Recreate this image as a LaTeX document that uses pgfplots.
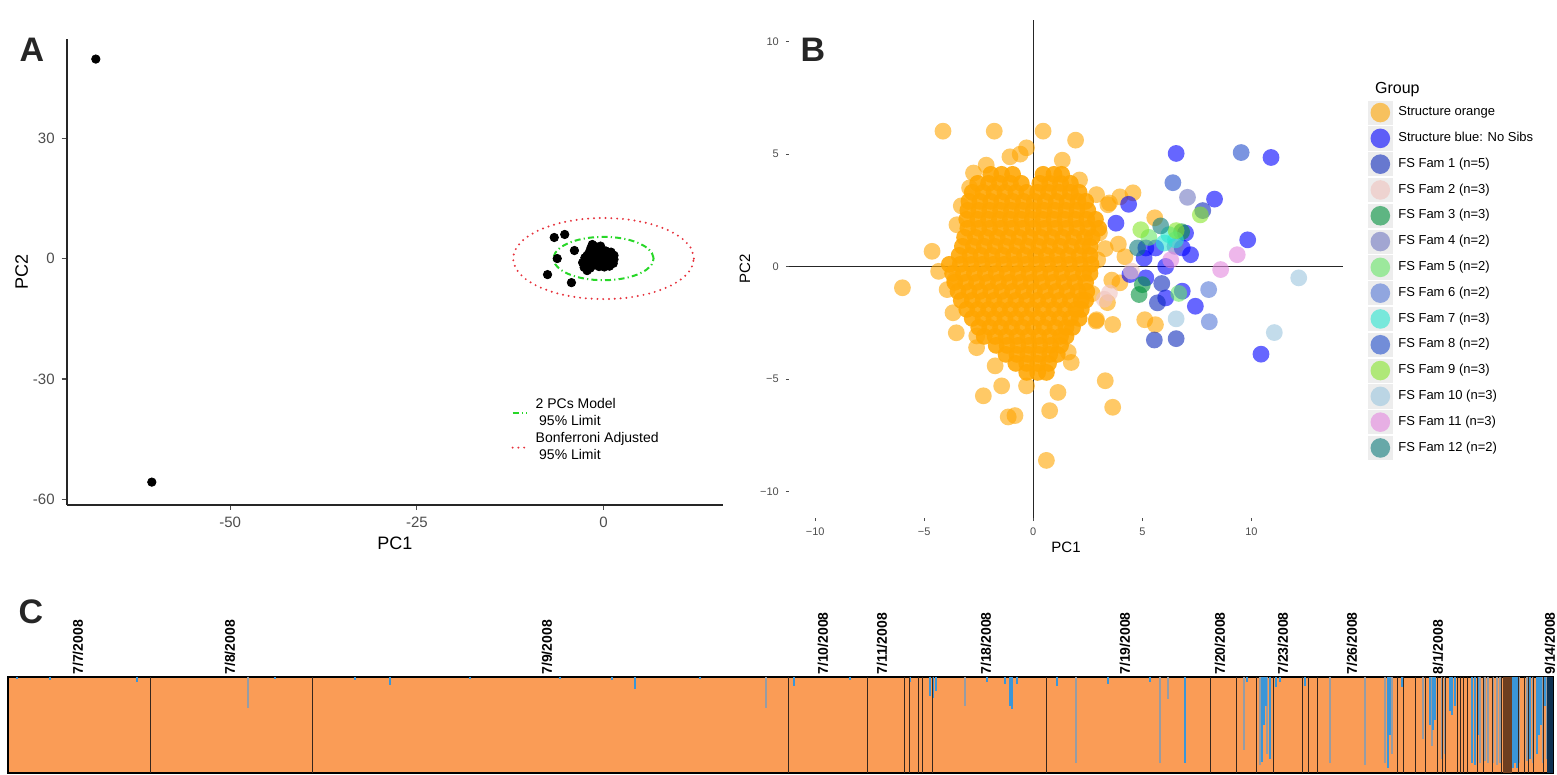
\documentclass[border=0pt]{standalone}
\usepackage{pgfplots}
\pgfplotsset{compat=1.18}
\usepackage{fontspec}
\setmainfont{Liberation Sans}

% group colours (drawn at 60% opacity)
\definecolor{sorange}{RGB}{255,165,0}
\definecolor{sblue}{RGB}{0,0,255}
\definecolor{fam1}{RGB}{15,43,187}
\definecolor{fam2}{RGB}{240,195,190}
\definecolor{fam3}{RGB}{0,145,60}
\definecolor{fam4}{RGB}{113,120,193}
\definecolor{fam5}{RGB}{103,230,103}
\definecolor{fam6}{RGB}{85,120,215}
\definecolor{fam7}{RGB}{42,230,207}
\definecolor{fam8}{RGB}{33,77,203}
\definecolor{fam9}{RGB}{135,230,43}
\definecolor{fam10}{RGB}{155,197,222}
\definecolor{fam11}{RGB}{227,135,222}
\definecolor{fam12}{RGB}{15,123,123}
% structure bar plot colours
\definecolor{corange}{RGB}{250,156,86}
\definecolor{cblue}{RGB}{58,150,216}
\definecolor{cgray}{RGB}{150,156,164}
\definecolor{csep}{RGB}{55,38,28}
\definecolor{cbrown}{RGB}{110,62,32}
\definecolor{cnavy}{RGB}{14,50,82}
\definecolor{tickgray}{RGB}{77,77,77}
\definecolor{limgreen}{RGB}{40,215,40}
\definecolor{limred}{RGB}{230,50,60}

\pgfplotsset{
  ptB/.style={only marks, mark=*, mark size=4.2pt, color=#1,
    mark options={draw opacity=0, fill=#1, fill opacity=0.6}},
  coreB/.style={only marks, mark=*, mark size=4.2pt, color=#1,
    mark options={draw opacity=0, fill=#1, fill opacity=0.88}},
}

\begin{document}
\begin{tikzpicture}
\useasboundingbox (0,0) rectangle (778.5pt,387.5pt);

% ---------------- Panel A: PCA outlier check ----------------
\begin{axis}[
  at={(33.35pt,135pt)}, anchor=south west, scale only axis,
  width=328.15pt, height=233pt,
  xmin=-71.9, xmax=16.0, ymin=-61.4, ymax=54.7,
  axis x line*=bottom, axis y line*=left,
  axis line style={-, line width=0.9pt, black!85},
  xtick={-50,-25,0}, xticklabels={-50,-25,0},
  ytick={-60,-30,0,30}, yticklabels={-60,-30,0,30},
  tick align=outside, major tick length=2.5pt,
  tick style={tickgray, line width=0.6pt},
  ticklabel style={font=\fontsize{7.5}{8}\selectfont, text=tickgray},
  xlabel={PC1}, ylabel={PC2},
  label style={font=\fontsize{9}{10}\selectfont},
  xlabel style={at={(axis description cs:0.5,-0.0815)}, anchor=center},
  ylabel style={at={(axis description cs:-0.0686,0.5)}, anchor=center},
  legend image code/.code={\draw[#1] (0pt,0pt) -- (7pt,0pt);},
  legend style={at={(0.668,0.2425)}, anchor=north west, draw=none, fill=none,
    font=\fontsize{7}{8.5}\selectfont, nodes={align=left, inner sep=1pt},
    row sep=0pt, column sep=3pt},
  legend cell align=left,
]
\addplot[only marks, mark=*, mark size=2.1pt, black, forget plot] coordinates {
  (-68.0,49.7) (-60.5,-55.7)
  (-6.6,5.25) (-5.2,6.0) (-3.9,2.0) (-6.2,0.0) (-7.5,-4.0) (-4.3,-6.0)
  (-1.5,3.5) (-1.1,3.0) (-1.7,2.6) (-0.5,2.0) (0.3,1.9) (1.0,1.6) (1.4,0.8)
  (1.4,-0.2) (1.3,-1.2) (0.8,-1.9) (0.1,-2.1) (-0.6,-2.0) (-1.2,-1.6)
  (-1.5,-0.8) (-1.4,0.2) (-1.2,1.2) (-0.6,0.9) (0.2,0.8) (0.8,0.4) (0.7,-0.6)
  (0.0,-0.9) (-0.7,-0.4) (-0.2,0.1) (-2.5,0.2) (-2.8,-1.0) (-2.6,-2.2)
  (-2.2,-3.0) (-1.8,-2.4) (-2.0,-1.0) (-2.2,0.8) (-1.9,1.6) (-0.4,3.1)
};
\addplot[limgreen, line width=1pt, dash pattern=on 3pt off 1.6pt on 0.6pt off 1.6pt, smooth] coordinates {
  (6.70,0) (6.47,1.40) (5.80,2.70) (4.74,3.82) (3.35,4.68) (1.73,5.22) (0,5.40)
  (-1.73,5.22) (-3.35,4.68) (-4.74,3.82) (-5.80,2.70) (-6.47,1.40) (-6.70,0)
  (-6.47,-1.40) (-5.80,-2.70) (-4.74,-3.82) (-3.35,-4.68) (-1.73,-5.22) (0,-5.40)
  (1.73,-5.22) (3.35,-4.68) (4.74,-3.82) (5.80,-2.70) (6.47,-1.40) (6.70,0)
};
\addlegendentry{2 PCs Model\\\hspace{0.25em}95\% Limit}
\addplot[limred, line width=1.1pt, line cap=round, dash pattern=on 0pt off 2.9pt, smooth] coordinates {
  (12.10,0) (11.69,2.61) (10.48,5.05) (8.56,7.14) (6.05,8.75) (3.13,9.76) (0,10.10)
  (-3.13,9.76) (-6.05,8.75) (-8.56,7.14) (-10.48,5.05) (-11.69,2.61) (-12.10,0)
  (-11.69,-2.61) (-10.48,-5.05) (-8.56,-7.14) (-6.05,-8.75) (-3.13,-9.76) (0,-10.10)
  (3.13,-9.76) (6.05,-8.75) (8.56,-7.14) (10.48,-5.05) (11.69,-2.61) (12.10,0)
};
\addlegendentry{Bonferroni Adjusted\\\hspace{0.25em}95\% Limit}
\end{axis}

% ---------------- Panel B: PCA by group ----------------
\begin{axis}[
  at={(394.5pt,128.5pt)}, anchor=south west, scale only axis,
  width=277pt, height=249pt,
  xmin=-11.2, xmax=14.2, ymin=-11.17, ymax=10.96,
  axis x line*=bottom, axis y line*=left,
  axis line style={draw=none},
  xtick={-10,-5,0,5,10}, xticklabels={−10,−5,0,5,10},
  ytick={-10,-5,0,5,10}, yticklabels={−10,−5,0,5,10},
  tick align=outside, major tick length=1.6pt,
  tick style={tickgray, line width=0.5pt},
  ticklabel style={font=\fontsize{5.5}{6}\selectfont, text=tickgray},
  xlabel={PC1}, ylabel={PC2},
  label style={font=\fontsize{7.5}{8}\selectfont},
  xlabel style={at={(axis description cs:0.5,-0.058)}, anchor=center},
  ylabel style={at={(axis description cs:-0.0794,0.5)}, anchor=center},
  legend image code/.code={
    \fill[black!7] (0pt,-5.8pt) rectangle (11.6pt,5.8pt);
    \draw[#1, mark size=4.9pt] plot coordinates {(5.8pt,0pt)};},
  legend style={at={(1.045,0.839)}, anchor=north west, draw=none, fill=none,
    font=\fontsize{6.5}{7}\selectfont, inner sep=0pt,
    nodes={inner sep=0.5pt}, row sep=0.9pt, column sep=2.5pt},
  legend cell align=left,
]
% dense body of the orange cluster
\addplot[coreB=sorange, forget plot] coordinates {
  (-1.95,4.1) (-1.45,4.1) (-0.95,4.1) (0.45,4.1) (0.95,4.1) (1.3,4.1)
  (-2.55,3.7) (-2.05,3.7) (-1.55,3.7) (-1.05,3.7) (-0.55,3.7) (0.3,3.7) (0.75,3.7) (1.25,3.7) (1.7,3.7)
  (-2.8,3.3) (-2.3,3.3) (-1.8,3.3) (-1.3,3.3) (-0.8,3.3) (-0.3,3.3) (0.2,3.3) (0.7,3.3) (1.2,3.3) (1.7,3.3) (2.1,3.3)
  (-2.95,2.9) (-2.45,2.9) (-1.95,2.9) (-1.45,2.9) (-0.95,2.9) (-0.45,2.9) (0.05,2.9) (0.55,2.9) (1.05,2.9) (1.55,2.9) (2.05,2.9) (2.4,2.9)
  (-3.0,2.5) (-2.5,2.5) (-2.0,2.5) (-1.5,2.5) (-1.0,2.5) (-0.5,2.5) (0.0,2.5) (0.5,2.5) (1.0,2.5) (1.5,2.5) (2.0,2.5) (2.5,2.5)
  (-3.05,2.1) (-2.55,2.1) (-2.05,2.1) (-1.55,2.1) (-1.05,2.1) (-0.55,2.1) (-0.05,2.1) (0.45,2.1) (0.95,2.1) (1.45,2.1) (1.95,2.1) (2.45,2.1) (2.85,2.1)
  (-3.0,1.7) (-2.5,1.7) (-2.0,1.7) (-1.5,1.7) (-1.0,1.7) (-0.5,1.7) (0.0,1.7) (0.5,1.7) (1.0,1.7) (1.5,1.7) (2.0,1.7) (2.5,1.7) (3.0,1.7)
  (-3.15,1.3) (-2.65,1.3) (-2.15,1.3) (-1.65,1.3) (-1.15,1.3) (-0.65,1.3) (-0.15,1.3) (0.35,1.3) (0.85,1.3) (1.35,1.3) (1.85,1.3) (2.35,1.3) (2.7,1.3)
  (-3.25,0.9) (-2.75,0.9) (-2.25,0.9) (-1.75,0.9) (-1.25,0.9) (-0.75,0.9) (-0.25,0.9) (0.25,0.9) (0.75,0.9) (1.25,0.9) (1.75,0.9) (2.25,0.9) (2.6,0.9)
  (-3.4,0.5) (-2.9,0.5) (-2.4,0.5) (-1.9,0.5) (-1.4,0.5) (-0.9,0.5) (-0.4,0.5) (0.1,0.5) (0.6,0.5) (1.1,0.5) (1.6,0.5) (2.1,0.5) (2.6,0.5)
  (-3.85,0.1) (-3.35,0.1) (-2.85,0.1) (-2.35,0.1) (-1.85,0.1) (-1.35,0.1) (-0.85,0.1) (-0.35,0.1) (0.15,0.1) (0.65,0.1) (1.15,0.1) (1.65,0.1) (2.15,0.1) (2.65,0.1)
  (-3.7,-0.3) (-3.2,-0.3) (-2.7,-0.3) (-2.2,-0.3) (-1.7,-0.3) (-1.2,-0.3) (-0.7,-0.3) (-0.2,-0.3) (0.3,-0.3) (0.8,-0.3) (1.3,-0.3) (1.8,-0.3) (2.3,-0.3) (2.6,-0.3)
  (-3.6,-0.7) (-3.1,-0.7) (-2.6,-0.7) (-2.1,-0.7) (-1.6,-0.7) (-1.1,-0.7) (-0.6,-0.7) (-0.1,-0.7) (0.4,-0.7) (0.9,-0.7) (1.4,-0.7) (1.9,-0.7) (2.4,-0.7)
  (-3.45,-1.1) (-2.95,-1.1) (-2.45,-1.1) (-1.95,-1.1) (-1.45,-1.1) (-0.95,-1.1) (-0.45,-1.1) (0.05,-1.1) (0.55,-1.1) (1.05,-1.1) (1.55,-1.1) (2.05,-1.1) (2.45,-1.1)
  (-3.3,-1.5) (-2.8,-1.5) (-2.3,-1.5) (-1.8,-1.5) (-1.3,-1.5) (-0.8,-1.5) (-0.3,-1.5) (0.2,-1.5) (0.7,-1.5) (1.2,-1.5) (1.7,-1.5) (2.2,-1.5) (2.4,-1.5)
  (-3.05,-1.9) (-2.55,-1.9) (-2.05,-1.9) (-1.55,-1.9) (-1.05,-1.9) (-0.55,-1.9) (-0.05,-1.9) (0.45,-1.9) (0.95,-1.9) (1.45,-1.9) (1.95,-1.9) (2.2,-1.9)
  (-2.8,-2.3) (-2.3,-2.3) (-1.8,-2.3) (-1.3,-2.3) (-0.8,-2.3) (-0.3,-2.3) (0.2,-2.3) (0.7,-2.3) (1.2,-2.3) (1.7,-2.3) (2.1,-2.3)
  (-2.5,-2.7) (-2.0,-2.7) (-1.5,-2.7) (-1.0,-2.7) (-0.5,-2.7) (0.0,-2.7) (0.5,-2.7) (1.0,-2.7) (1.5,-2.7) (1.8,-2.7)
  (-2.25,-3.1) (-1.75,-3.1) (-1.25,-3.1) (-0.75,-3.1) (-0.25,-3.1) (0.25,-3.1) (0.75,-3.1) (1.25,-3.1) (1.5,-3.1)
  (-1.7,-3.5) (-1.2,-3.5) (-0.7,-3.5) (-0.2,-3.5) (0.3,-3.5) (0.8,-3.5) (1.25,-3.5)
  (-1.25,-3.9) (-0.75,-3.9) (-0.25,-3.9) (0.25,-3.9) (0.75,-3.9) (1.1,-3.9)
  (-0.8,-4.3) (-0.3,-4.3) (0.2,-4.3) (0.7,-4.3)
  (-0.3,-4.7) (0.2,-4.7) (0.6,-4.7)
};
% scattered orange individuals around the cluster
\addplot[ptB=sorange] coordinates {
  (-4.14,6.02) (-1.79,6.02) (0.45,6.02) (1.94,5.62) (-0.31,5.28) (-0.6,5.0)
  (-1.07,4.88) (1.33,4.73) (-2.16,4.51) (-2.74,4.16) (-2.92,3.5) (2.12,3.85)
  (-3.5,1.86) (-4.64,0.68) (-6.0,-0.94) (-4.34,-0.21) (-3.95,-1.02) (-3.68,-2.05)
  (-3.53,-2.94) (-2.59,-3.08) (-2.29,-5.74) (-1.45,-5.3) (-1.15,-6.68) (-0.84,-6.62)
  (0.6,-8.61) (0.75,-6.4) (1.13,-5.59) (3.3,-5.07) (3.64,-6.25) (3.64,-2.57)
  (2.88,-2.42) (1.74,-4.26) (-0.31,-5.3) (-1.75,-4.41) (4.57,3.28) (3.97,3.1)
  (3.42,2.75) (3.49,2.83) (3.03,1.5) (3.3,0.8) (3.6,-0.6) (3.4,-1.6) (2.9,3.2)
  (3.9,1.0) (4.2,0.44) (3.97,-0.72) (5.11,-2.36) (5.6,-2.58) (5.57,2.17) (2.9,-2.36)
  (-3.3,2.7) (-3.6,-0.6) (2.95,0.3) (2.7,-1.2) (-2.6,-3.6) (1.6,-3.8)
};
\addlegendentry{Structure orange}
\addplot[ptB=sblue] coordinates {
  (6.55,5.03) (10.9,4.85) (8.31,3.0) (4.37,2.77) (3.79,1.93) (9.83,1.19)
  (10.44,-3.89) (6.98,1.49) (5.16,0.83) (6.83,0.83) (7.21,0.53) (6.07,0.01)
  (5.16,-0.5) (6.07,-1.39) (7.43,-1.76) (5.61,0.83) (5.08,0.38) (4.43,-0.35)
  (6.83,-1.09)
};
\addlegendentry{Structure blue: No Sibs}
\addplot[ptB=fam1] coordinates {(7.77,2.49) (5.55,-3.26) (6.55,-3.2) (5.69,-1.61) (5.89,-0.75)};
\addlegendentry{FS Fam 1 (n=5)}
\addplot[ptB=fam2] coordinates {(3.49,-1.17) (3.25,-1.45) (4.5,-0.2)};
\addlegendentry{FS Fam 2 (n=3)}
\addplot[ptB=fam3] coordinates {(5.0,-0.8) (4.85,-1.24) (6.8,1.55)};
\addlegendentry{FS Fam 3 (n=3)}
\addplot[ptB=fam4] coordinates {(7.07,3.08) (6.5,0.9)};
\addlegendentry{FS Fam 4 (n=2)}
\addplot[ptB=fam5] coordinates {(6.67,-1.19) (5.3,1.3)};
\addlegendentry{FS Fam 5 (n=2)}
\addplot[ptB=fam6] coordinates {(8.04,-1.02) (8.07,-2.45)};
\addlegendentry{FS Fam 6 (n=2)}
\addplot[ptB=fam7] coordinates {(6.22,1.42) (6.52,1.19) (6.0,1.05)};
\addlegendentry{FS Fam 7 (n=3)}
\addplot[ptB=fam8] coordinates {(9.53,5.07) (6.4,3.73)};
\addlegendentry{FS Fam 8 (n=2)}
\addplot[ptB=fam9] coordinates {(4.93,1.64) (7.66,2.3) (6.55,1.6)};
\addlegendentry{FS Fam 9 (n=3)}
\addplot[ptB=fam10] coordinates {(12.17,-0.5) (11.05,-2.93) (6.55,-2.32)};
\addlegendentry{FS Fam 10 (n=3)}
\addplot[ptB=fam11] coordinates {(9.35,0.53) (8.59,-0.13) (6.3,0.3)};
\addlegendentry{FS Fam 11 (n=3)}
\addplot[ptB=fam12] coordinates {(5.84,1.81) (4.78,0.83)};
\addlegendentry{FS Fam 12 (n=2)}
% reference lines through the origin
\addplot[black!85, line width=0.7pt, forget plot] coordinates {(-11.2,0) (14.2,0)};
\addplot[black!85, line width=0.7pt, forget plot] coordinates {(0,-11.17) (0,10.96)};
\end{axis}
\node[anchor=west, font=\fontsize{8}{9}\selectfont] at (684pt,342.5pt) {Group};

% ---------------- Panel C: STRUCTURE membership by collection date ----------------
\begin{axis}[
  at={(4pt,1pt)}, anchor=south west, scale only axis,
  width=772.5pt, height=48pt,
  xmin=8, xmax=1553, ymin=-1, ymax=0,
  axis background/.style={fill=corange},
  ytick=\empty,
  xtick={78,230,547,823,882,986,1125,1220,1283,1352,1438,1550},
  xticklabels={7/7/2008,7/8/2008,7/9/2008,7/10/2008,7/11/2008,7/18/2008,7/19/2008,7/20/2008,7/23/2008,7/26/2008,8/1/2008,9/14/2008},
  xticklabel pos=right,
  xtick style={draw=none},
  xticklabel style={rotate=90, anchor=west, font=\bfseries\fontsize{7}{8}\selectfont, inner sep=1pt},
  axis line style={line width=1.3pt, black},
]
\addplot[ycomb, color=cgray, line width=0.6pt] coordinates {
  (248,-0.32) (766,-0.32) (965,-0.30) (1076,-0.9) (1160,-0.9) (1168,-0.23)
  (1244,-0.76) (1260,-0.92) (1267,-0.8) (1330,-0.9) (1365,-0.92) (1385,-0.9)
  (1392,-0.8) (1423,-0.65) (1432,-0.72) (1442,-0.85) (1445,-0.8) (1480,-0.9)
  (1485,-0.88) (1488,-0.9) (1493,-0.9) (1497,-0.92) (1500,-0.9) (1519,-0.9)
  (1527,-0.88) (1533,-0.9) (1543,-0.9) (1547,-0.85)
};
\addplot[ycomb, color=cblue, line width=0.6pt] coordinates {
  (17,-0.02) (50,-0.03) (137,-0.05) (275,-0.02) (355,-0.03) (390,-0.08)
  (470,-0.02) (560,-0.02) (612,-0.03) (635,-0.12) (700,-0.02) (794,-0.09)
  (850,-0.03) (910,-0.05) (930,-0.2) (933,-0.22) (936,-0.15) (987,-0.05)
  (1005,-0.07) (1010,-0.3) (1012,-0.33) (1017,-0.07) (1057,-0.09) (1108,-0.07)
  (1150,-0.05) (1185,-0.9) (1247,-0.05) (1262,-0.89) (1264,-0.5) (1266,-0.3)
  (1270,-0.85) (1276,-0.1) (1280,-0.05) (1305,-0.09) (1388,-0.95) (1390,-0.6)
  (1402,-0.1) (1430,-0.5) (1433,-0.55) (1435,-0.45) (1450,-0.35) (1452,-0.4)
  (1455,-0.3) (1472,-0.9) (1475,-0.92) (1478,-0.6) (1513,-0.95) (1515,-0.9)
  (1517,-0.95) (1530,-0.85) (1537,-0.8) (1539,-0.6) (1541,-0.5) (1545,-0.3)
};
\addplot[ycomb, color=csep, line width=0.45pt] coordinates {
  (150,-1) (312,-1) (788,-1) (867,-1) (904,-1) (909,-1) (918,-1) (922,-1)
  (932,-1) (1046,-1) (1210,-1) (1236,-1) (1256,-1) (1273,-1) (1302,-1)
  (1308,-1) (1317,-1) (1397,-1) (1403,-1) (1415,-1) (1425,-1) (1437,-1)
  (1442,-1) (1445,-1) (1457,-1) (1460,-1) (1463,-1) (1467,-1) (1477,-1)
  (1483,-1) (1492,-1) (1501,-1) (1518,-1) (1524,-1) (1528,-1) (1533,-1)
  (1543,-1)
};
\addplot[ycomb, color=cbrown, line width=4.5pt] coordinates {(1507,-1)};
\addplot[ycomb, color=cnavy, line width=3pt] coordinates {(1550,-1)};
\end{axis}

% panel letters
\node[font=\bfseries\fontsize{17}{17}\selectfont, text=black!85] at (16pt,362.5pt) {A};
\node[font=\bfseries\fontsize{17}{17}\selectfont, text=black!85] at (406.5pt,362.5pt) {B};
\node[font=\bfseries\fontsize{17}{17}\selectfont, text=black!85] at (15.5pt,81.5pt) {C};
\end{tikzpicture}
\end{document}
